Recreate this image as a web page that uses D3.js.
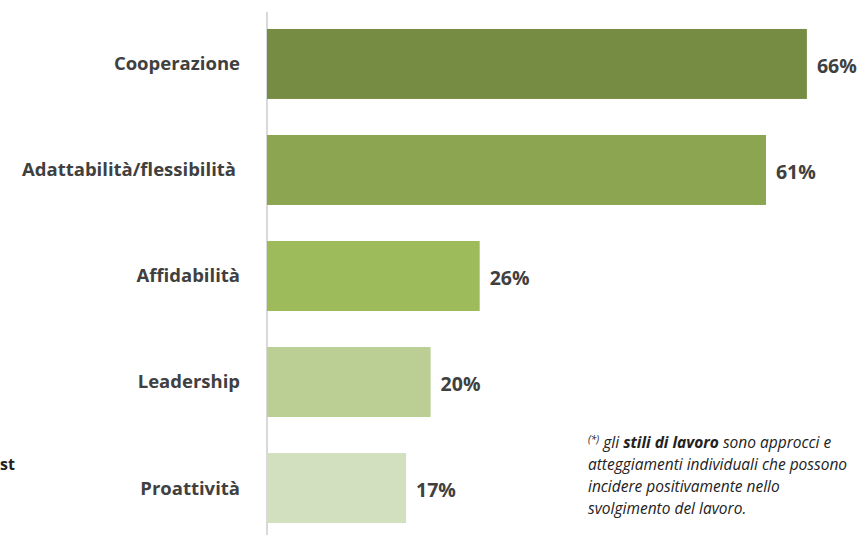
<!DOCTYPE html>
<html><head><meta charset="utf-8">
<script src="https://cdn.jsdelivr.net/npm/d3@7"></script>
<style>
body{margin:0;background:#fff;}
svg{display:block;font-family:"Open Sans",Lato,sans-serif;}
</style></head>
<body><svg id="c" width="861" height="535"></svg>
<script>
const categories = ["Cooperazione","Adattabilità/flessibilità","Affidabilità","Leadership","Proattività"];
const values = [66, 61, 26, 20, 17];
const colors = ["#758C42","#8BA551","#9DBB5A","#BBCF95","#D3E0BF"];

const svg = d3.select("#c");
const x = d3.scaleLinear().domain([0,100]).range([267, 1085]);
const y = d3.scaleBand().domain(categories).range([12, 540]).paddingInner(0.34).paddingOuter(0.16);

svg.append("line").attr("x1",267).attr("x2",267).attr("y1",12).attr("y2",535)
  .attr("stroke","#d9d9d9").attr("stroke-width",2);

svg.selectAll("rect.bar").data(categories).join("rect").attr("class","bar")
  .attr("x", x(0)).attr("y", d=>y(d)).attr("height", y.bandwidth())
  .attr("width", (d,i)=>x(values[i])-x(0)).attr("fill",(d,i)=>colors[i]);

svg.selectAll("text.cat").data(categories).join("text").attr("class","cat")
  .attr("x", (d,i)=> i===1?236:240).attr("y", d=>y(d)+y.bandwidth()/2).attr("dy","0.35em")
  .attr("text-anchor","end").attr("font-weight","bold").attr("font-size",18.5).attr("fill","#404040")
  .text(d=>d);

svg.selectAll("text.val").data(categories).join("text").attr("class","val")
  .attr("x", (d,i)=>x(values[i])+10).attr("y", d=>y(d)+y.bandwidth()/2+2).attr("dy","0.35em")
  .attr("font-weight","bold").attr("font-size",19.5).attr("fill","#404040")
  .text((d,i)=>values[i]+"%");

svg.append("text").attr("x",0).attr("y",470).attr("font-weight","bold").attr("font-size",16).attr("fill","#222").text("st");

const fn = svg.append("g").attr("font-style","italic").attr("font-size",15.5).attr("fill","#222");
const l1 = fn.append("text").attr("x",588).attr("y",448);
l1.append("tspan").attr("font-size",10).attr("dy",-5).text("(*)");
l1.append("tspan").attr("dy",5).text(" gli ");
l1.append("tspan").attr("font-weight","bold").text("stili di lavoro");
l1.append("tspan").text(" sono approcci e");
fn.append("text").attr("x",588).attr("y",470).text("atteggiamenti individuali che possono");
fn.append("text").attr("x",588).attr("y",492).text("incidere positivamente nello");
fn.append("text").attr("x",588).attr("y",514).text("svolgimento del lavoro.");
</script></body></html>
